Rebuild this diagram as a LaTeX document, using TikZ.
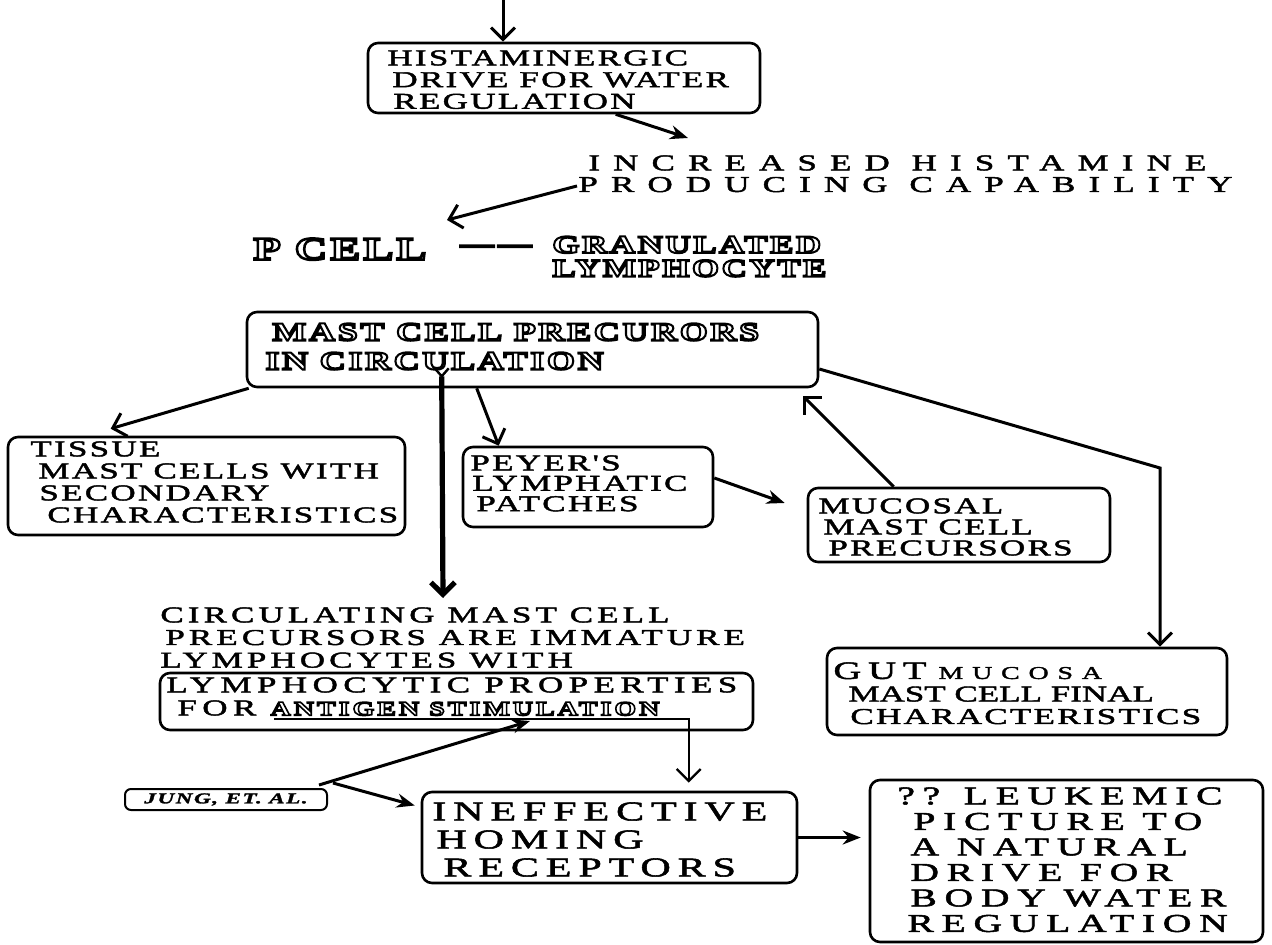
\documentclass[tikz,border=0pt]{standalone}
\usepackage{fontspec}
\usetikzlibrary{arrows.meta,calc}
\newfontfamily\wf[FakeStretch=1.55,FakeBold=2,LetterSpace=10]{Liberation Serif}
\newfontfamily\of[FakeStretch=1.4,FakeBold=8,LetterSpace=10]{Liberation Serif Bold}
\newcommand{\fs}[2]{\fontsize{#1}{#2}\selectfont}
\newcommand{\ls}[1]{\addfontfeature{LetterSpace=#1}}
\newcommand{\olt}[1]{{\pgfsetfillcolor{white}\pgfsetstrokecolor{black}#1}}
\begin{document}
\begin{tikzpicture}[x=0.5pt,y=-0.5pt,
  box/.style={draw, line width=1.3pt, rounded corners=5pt, inner sep=0pt},
  txt/.style={inner sep=0pt, anchor=north west, align=left},
  varr/.style={line width=1.5pt, -{Straight Barb[length=6pt,width=12pt]}},
  sarr/.style={line width=1.5pt, -{Stealth[length=9pt,width=7pt]}}]
\useasboundingbox (0,0) rectangle (1272,945);
% boxes and texts
\node[box, minimum width=196pt, minimum height=35pt] (hist) at (564,78) {};
\node[txt, font=\wf\fs{11.3}{10.85}] (thist) at (387,50) {HISTAMINERGIC\\\hspace*{2.5pt}DRIVE FOR WATER\\\hspace*{3pt}REGULATION};
\node[txt, font=\wf\ls{58}\fs{11.3}{10.8}] (tinc) at (578,155) {\hspace*{5pt}INCREASED HISTAMINE\\PRODUCING CAPABILITY};
\node[txt, font=\of\fs{16}{16}] (tpcell) at (253,238) {\olt{P\hspace{7pt}CELL}};
\node[txt, font=\of\fs{12}{12}] (tdash) at (460,245) {\olt{—\,—}};
\node[txt, font=\of\fs{12.5}{11.8}] (tgran) at (552,236) {\olt{GRANULATED}\\\olt{LYMPHOCYTE}};
\node[box, minimum width=285.5pt, minimum height=37.5pt] (mast) at (532.5,349.5) {};
\node[txt, font=\of\fs{12.9}{14.5}] (tmast) at (265,323) {\hspace*{3.5pt}\olt{MAST CELL PRECURORS}\\\olt{IN CIRCULATION}};
\node[box, minimum width=198.5pt, minimum height=49pt] (tissue) at (206.5,486) {};
\node[txt, font=\wf\fs{11.3}{11}] (ttissue) at (30,441) {TISSUE\\\hspace*{4pt}MAST CELLS WITH\\\hspace*{4.5pt}SECONDARY\\\hspace*{8.5pt}CHARACTERISTICS};
\node[box, minimum width=125pt, minimum height=40pt] (peyer) at (588,487) {};
\node[txt, font=\wf\fs{11.3}{10.2}] (tpeyer) at (470,455) {PEYER'S\\\hspace*{1pt}LYMPHATIC\\\hspace*{3pt}PATCHES};
\node[box, minimum width=151pt, minimum height=37pt] (mucosal) at (959,525) {};
\node[txt, font=\wf\fs{11.3}{10.5}] (tmuc) at (818,498) {MUCOSAL\\\hspace*{2.5pt}MAST CELL\\\hspace*{5pt}PRECURSORS};
\node[box, minimum width=200pt, minimum height=43.5pt] (gut) at (1027,691.5) {};
\node[txt, font=\wf\fs{11.3}{11.25}] (tgut) at (833,662) {{\fs{12.5}{11.25}\ls{27}GUT}\hspace{6pt}{\fs{9}{11.25}\ls{49}MUCOSA}\\\hspace*{7.5pt}{\ls{0}MAST CELL FINAL}\\\hspace*{8.5pt}CHARACTERISTICS};
\node[txt, font=\wf\ls{18}\fs{11.3}{11.3}] (tcirc) at (160,607) {CIRCULATING MAST CELL\\\hspace*{2.5pt}PRECURSORS ARE IMMATURE\\LYMPHOCYTES WITH};
\node[box, minimum width=296.5pt, minimum height=28.5pt] (lymph) at (456.5,701.5) {};
\node[txt, font=\wf\ls{24}\fs{11.3}{11.5}] (tlymph) at (166,677) {LYMPHOCYTIC PROPERTIES\\\hspace*{5.5pt}FOR {\of\ls{15}\fs{10}{11.5}\olt{ANTIGEN STIMULATION}}};
\node[box, rounded corners=3pt, line width=1pt, minimum width=101pt, minimum height=10.5pt, font=\wf\bfseries\itshape\fs{7.5}{8}] (jung) at (226,799.5) {JUNG, ET. AL.};
\node[box, minimum width=187.5pt, minimum height=45.5pt] (ineff) at (609.5,837.5) {};
\node[txt, font=\wf\ls{25}\fs{13.6}{14}] (tineff) at (432,802) {INEFFECTIVE\\\hspace*{2pt}HOMING\\\hspace*{5.5pt}RECEPTORS};
\node[box, minimum width=196.5pt, minimum height=81pt] (leuk) at (1066.5,861) {};
\node[txt, font=\wf\ls{30}\fs{12.8}{12.75}] (tleuk) at (897,787) {?? LEUKEMIC\\\hspace*{8pt}PICTURE TO\\\hspace*{6.5pt}A NATURAL\\\hspace*{6.5pt}DRIVE FOR\\\hspace*{6.5pt}BODY WATER\\\hspace*{5pt}REGULATION};
% connectors
\coordinate (top) at (503,0);
\draw[varr] (top) -- (top |- hist.north);
\coordinate (incA) at (688,138);
\draw[sarr] ($(hist.south west)+(249,0)$) -- (incA);
\coordinate (incB) at (577,186);
\coordinate (pA) at (447,220);
\draw[varr] (incB) -- (pA);
\draw[varr] ($(mast.south west)+(3,0)$) -- ($(tissue.north west)+(104,-7)$);
\coordinate (cA) at (443,598);
\draw[line width=2.6pt, -{Straight Barb[length=6pt,width=12pt]}] ($(mast.south west)+(196,-12)$) -- (cA);
\draw[line width=1.2pt] ($(mast.south west)+(189,-20)$) -- ($(mast.south west)+(196,-12)$) -- ($(mast.south west)+(203,-20)$);
\draw[varr] ($(mast.south west)+(231,0)$) -- ($(peyer.north west)+(37,0)$);
\draw[sarr] ($(peyer.east)+(0,-9)$) -- ($(mucosal.west)+(-22,-22)$);
\draw[varr] ($(mucosal.north west)+(87,0)$) -- ($(mast.south east)+(-16,8)$);
\coordinate (gc) at (1160,468);
\draw[varr] ($(mast.east)+(0,19.5)$) -- (gc) -- (gc |- gut.north);
\coordinate (ulA) at (274,719);
\coordinate (ulB) at (530,721);
\draw[varr, line width=1.2pt] (ulA) -| ($(ineff.north west)+(268,-8)$);
\draw[sarr] ($(jung.north east)+(-9,-3)$) -- (ulB);
\draw[sarr] ($(jung.north east)+(5,-5)$) -- ($(ineff.west)+(-6,-32)$);
\draw[sarr, shorten >=4pt] (ineff.east) -- (ineff.east -| leuk.west);
\end{tikzpicture}
\end{document}
